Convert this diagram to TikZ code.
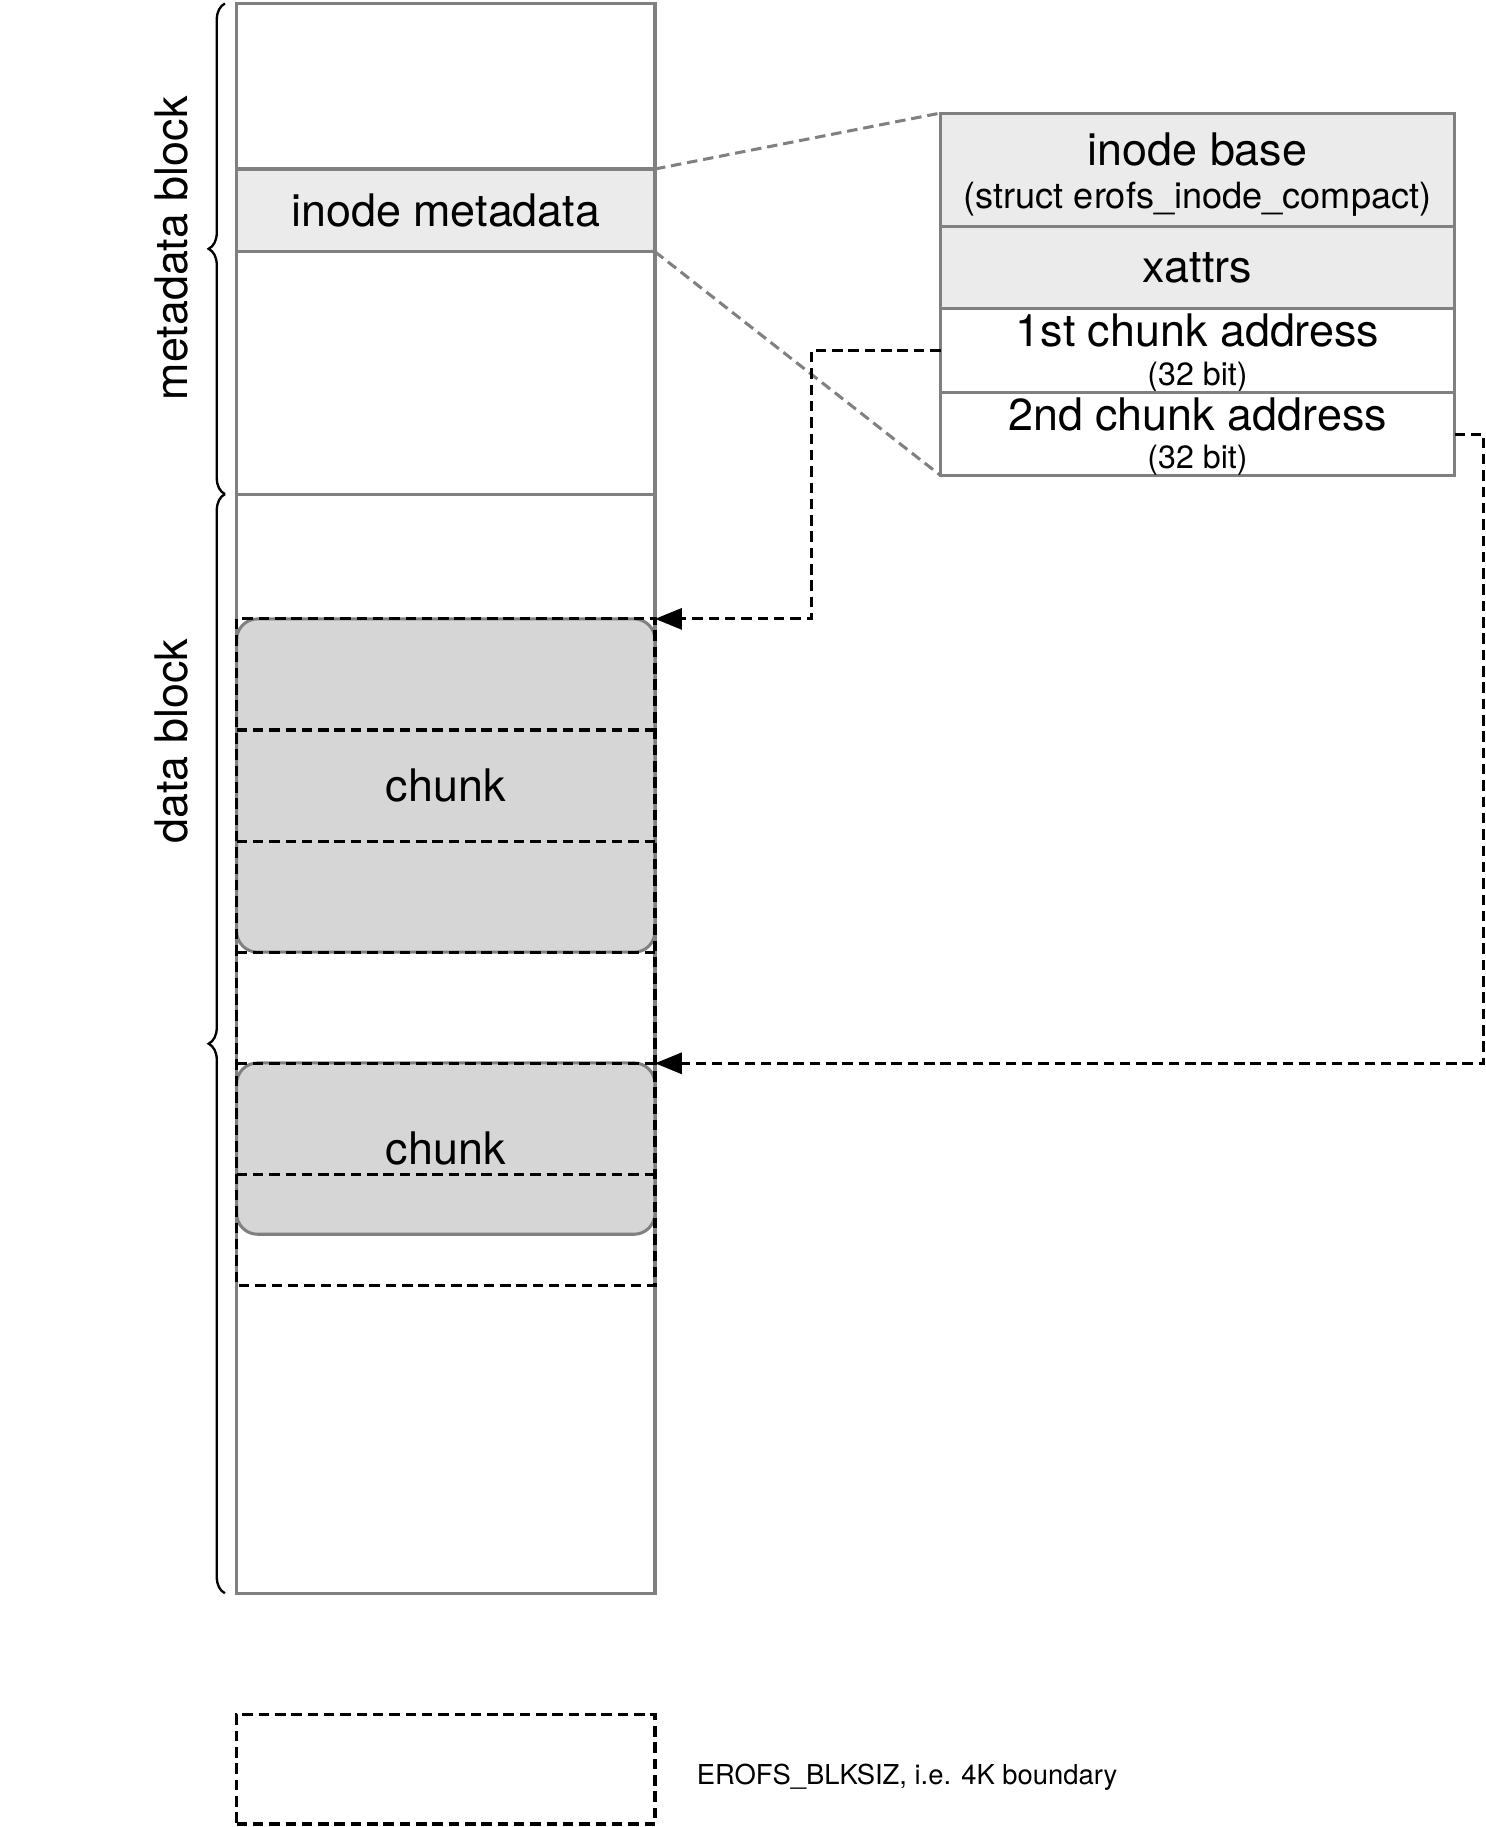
\documentclass[tikz,border=0pt]{standalone}
\usepackage{color}
\usepackage{tikz}
\usepackage{fontspec}
\setmainfont{TeX Gyre Heros}
\usetikzlibrary{positioning,arrows.meta,decorations.pathreplacing}
\definecolor{linegray}{RGB}{128,128,128}
\definecolor{metafill}{RGB}{235,235,235}
\definecolor{chunkfill}{RGB}{214,214,214}

\begin{document}
\begin{tikzpicture}[x=1pt,y=-1pt]
        \tikzstyle{every node}=[outer sep=0pt,inner sep=0pt,font=\fontsize{38.5}{40}\selectfont]
        \tikzstyle{cell}=[draw=linegray,line width=2.6pt,shape=rectangle,minimum width=359pt]
        \tikzstyle{tabrow}=[draw=linegray,line width=2.6pt,shape=rectangle,minimum width=441pt,align=center]
        \tikzstyle{blkbox}=[minimum width=359pt,minimum height=95.33pt]
        \tikzstyle{dashline}=[draw=black,line width=2.6pt,dash pattern=on 9pt off 5pt]
        \tikzstyle{chunkbox}=[draw=linegray,line width=2.6pt,fill=chunkfill,rounded corners=18pt,minimum width=359pt]
        \tikzstyle{ptr}=[dashline,-{Triangle[length=23pt,width=18pt]}]
        \tikzstyle{zoomline}=[draw=linegray,line width=2.6pt,dash pattern=on 9pt off 5pt]
        \tikzstyle{brc}=[decorate,decoration={brace,amplitude=14pt},line width=2pt]

        \path[fill=white,use as bounding box] (0,0) rectangle (1275,1567.6);

        % block device
        \node[cell,fill=white,minimum height=1364pt] (col) at (382.5,685) {};
        \node[cell,minimum height=421pt] (mblock) at (382.5,213.5) {};
        \node[cell,fill=metafill,minimum height=71pt] (imeta) at (382.5,180.5) {inode metadata};

        \node[chunkbox,minimum height=286pt] (chunk1) at (382.5,674) {chunk};
        \node[chunkbox,minimum height=147pt] (chunk2) at (382.5,985.5) {chunk};

        % 4K boundaries
        \foreach \i in {0,...,5}
            \node[blkbox] (blk\i) at (382.5,{578.67+95.33*\i}) {};
        \draw[dashline] (blk0.north west) rectangle (blk5.south east);
        \foreach \i in {0,...,4}
            \draw[dashline] (blk\i.south west) -- (blk\i.south east);

        % on-disk inode
        \node[tabrow,fill=metafill,minimum height=97pt] (ibase) at (1027.5,145.5)
            {\rule{0pt}{36pt}inode base\\[-3pt]{\fontsize{31}{31}\selectfont (struct erofs\_inode\_compact)}};
        \node[tabrow,fill=metafill,minimum height=71pt,below=0pt of ibase] (xattr) {xattrs};
        \node[tabrow,minimum height=72pt,below=0pt of xattr] (addr1)
            {\rule{0pt}{32pt}1st chunk address\\[-7pt]{\fontsize{27.6}{28}\selectfont (32 bit)}};
        \node[tabrow,minimum height=71pt,below=0pt of addr1] (addr2)
            {\rule{0pt}{32pt}2nd chunk address\\[-7pt]{\fontsize{27.6}{28}\selectfont (32 bit)}};

        \draw[zoomline] (imeta.north east) -- (ibase.north west)
            (imeta.south east) -- (addr2.south west);

        \draw[ptr] (addr1.west) -- ++(-111,0) |- (blk0.north east);
        \draw[ptr] (addr2.east) -- ++(25,0) |- (blk4.north east);

        % braces
        \draw[brc] ([xshift=-10pt]mblock.south west) -- ([xshift=-10pt]mblock.north west);
        \draw[brc] ([xshift=-10pt]col.south west) -- ([xshift=-10pt]mblock.south west);
        \node[rotate=90] (mlabel) at (147,213) {metadata block};
        \node[rotate=90] (dlabel) at (147,636) {data block};

        % legend
        \node[blkbox,dashline,minimum height=94pt] (legend) at (382.5,1518) {};
        \node[anchor=west,font=\fontsize{23.5}{26}\selectfont] (legendtxt) at (598,1525)
            {EROFS\_BLKSIZ, i.e. 4K boundary};
\end{tikzpicture}
\end{document}
